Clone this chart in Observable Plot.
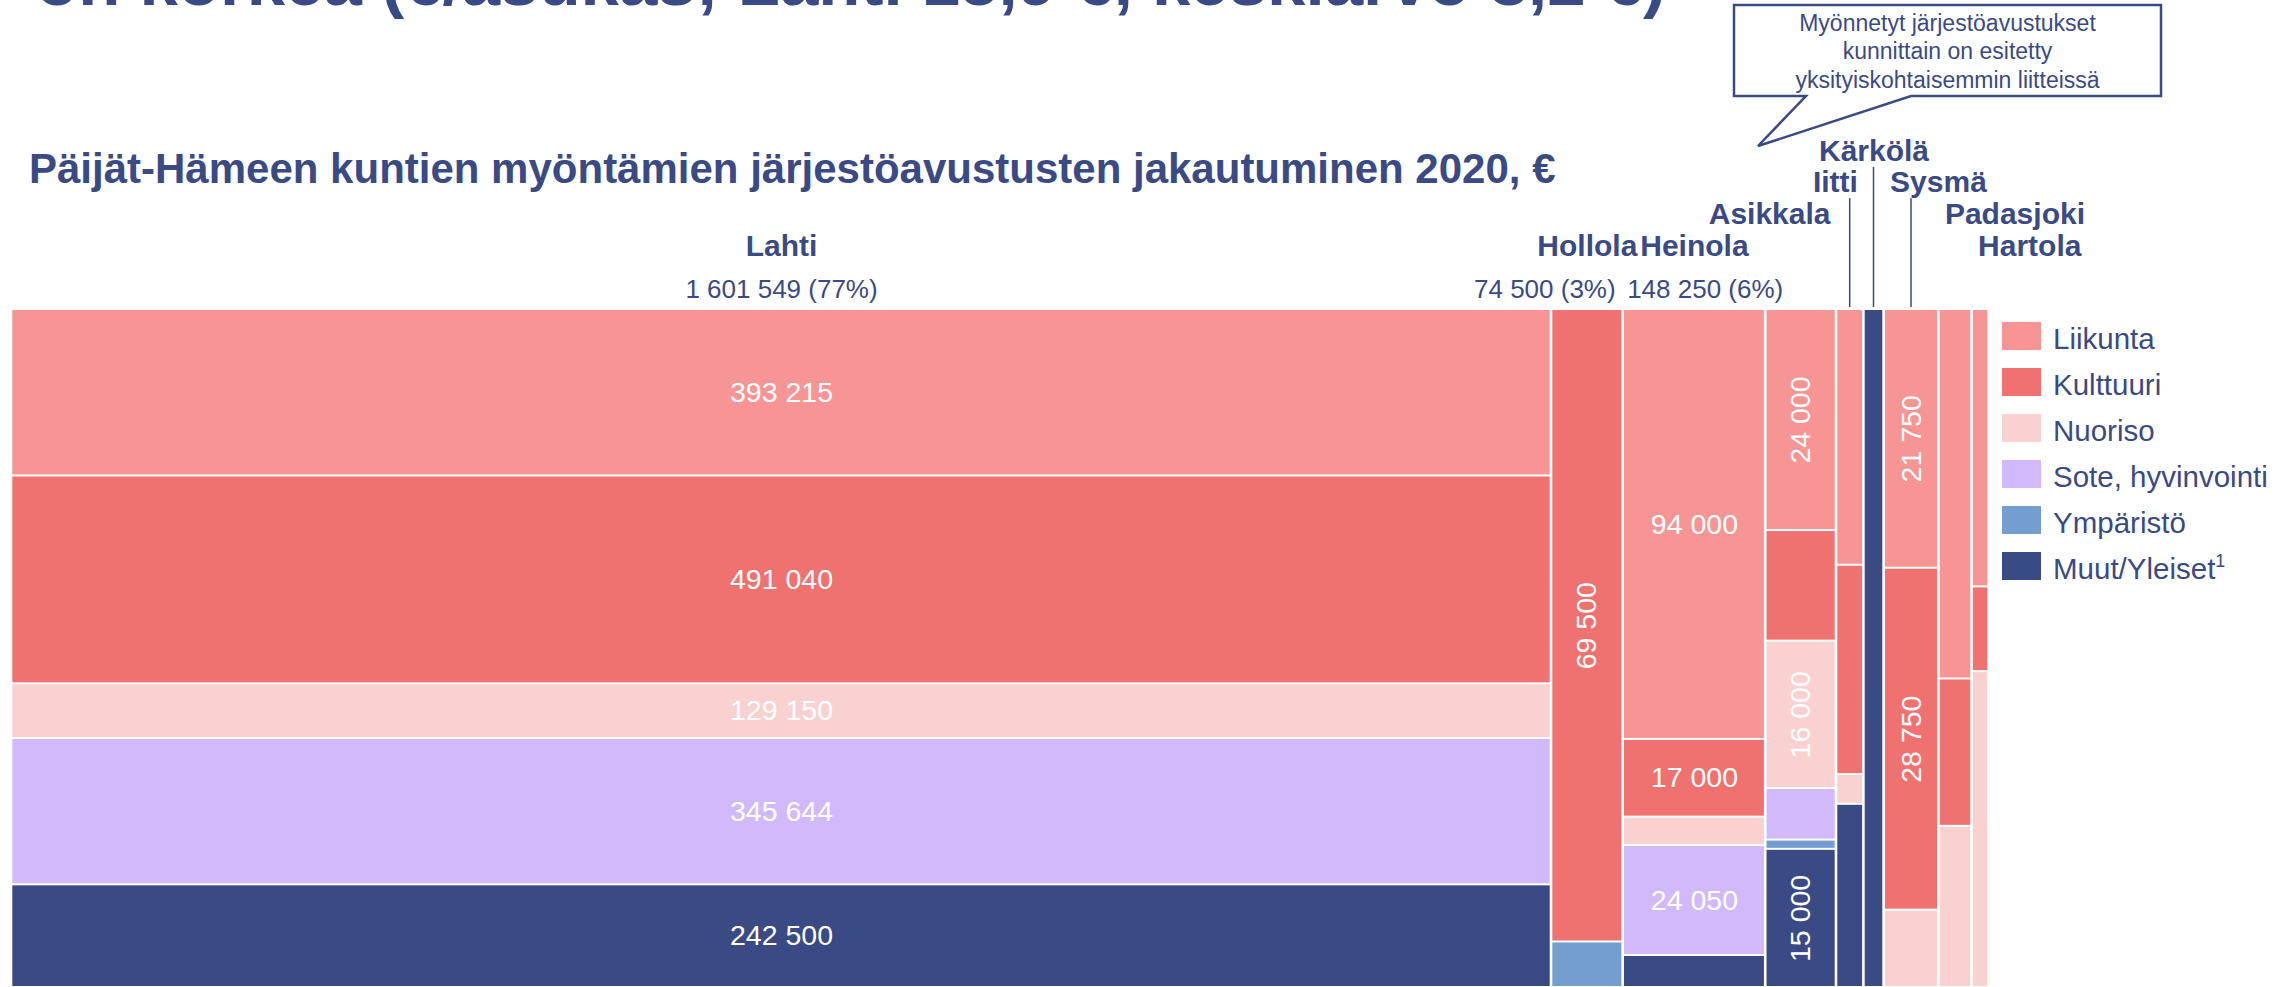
<!DOCTYPE html>
<html><head><meta charset="utf-8">
<script src="https://cdn.jsdelivr.net/npm/d3@7"></script>
<script src="https://cdn.jsdelivr.net/npm/@observablehq/plot@0.6"></script>
<style>
html,body{margin:0;padding:0;background:#fff;}
#wrap{position:relative;width:2293px;height:987px;overflow:hidden;font-family:"Liberation Sans",Arial,sans-serif;}
#wrap > svg{position:absolute;left:0;top:0;}
</style></head><body><div id="wrap"></div>
<script>
// ---------- data ----------
const municipalities = ["Lahti","Hollola","Heinola","Asikkala","Iitti","Kärkölä","Sysmä","Padasjoki","Hartola"];
const categories = ["Liikunta","Kulttuuri","Nuoriso","Sote, hyvinvointi","Ympäristö","Muut/Yleiset"];
const liikunta  = [393215,     0, 94000, 24000, 10750,     0, 21750, 18800, 7200];
const kulttuuri = [491040, 69500, 17000, 12000,  8800,     0, 28750,  7500, 2200];
const nuoriso   = [129150,     0,  6200, 16000,  1250,     0,  6500,  8200, 8200];
const sote      = [345644,     0, 24050,  5600,     0,     0,     0,     0,    0];
const ymparisto = [     0,  5000,     0,  1000,     0,     0,     0,     0,    0];
const muut      = [242500,     0,  7000, 15000,  7700, 21000,     0,     0,    0];
const shares = {Lahti: "77%", Hollola: "3%", Heinola: "6%"};
const labelled = [
  ["Lahti","Liikunta"],["Lahti","Kulttuuri"],["Lahti","Nuoriso"],["Lahti","Sote, hyvinvointi"],["Lahti","Muut/Yleiset"],
  ["Hollola","Kulttuuri"],
  ["Heinola","Liikunta"],["Heinola","Kulttuuri"],["Heinola","Sote, hyvinvointi"],
  ["Asikkala","Liikunta"],["Asikkala","Nuoriso"],["Asikkala","Muut/Yleiset"],
  ["Sysmä","Liikunta"],["Sysmä","Kulttuuri"]
];
const title = "on korkea (€/asukas; Lahti 15,9 €, keskiarvo 8,2 €)";
const subtitle = "Päijät-Hämeen kuntien myöntämien järjestöavustusten jakautuminen 2020, €";
const calloutLines = ["Myönnetyt järjestöavustukset","kunnittain on esitetty","yksityiskohtaisemmin liitteissä"];

// ---------- styling / layout ----------
const colors = ["#f79594","#f07270","#f9d1d1","#d1b9fb","#749dd0","#3a4a84"];
const navy = "#3a4a84";
const FONT = '"Liberation Sans", Arial, sans-serif';
const W = 2293, H = 987;
const nameLayout = {"Lahti":[0,"middle"],"Hollola":[0,"middle"],"Heinola":[0,"middle"],"Asikkala":[1,"end"],
  "Iitti":[2,"end"],"Kärkölä":[3,"middle"],"Sysmä":[2,"start"],"Padasjoki":[1,"start"],"Hartola":[0,"start"]};
const valueLayout = {"Lahti":"middle","Hollola":"end","Heinola":"start"};
const leaders = ["Iitti","Kärkölä","Sysmä"];

// ---------- build ----------
const series = [liikunta,kulttuuri,nuoriso,sote,ymparisto,muut];
const totals = municipalities.map((m,i)=>d3.sum(series,s=>s[i]));
const grand = d3.sum(totals);
const starts = d3.cumsum([0,...totals]);
const cols = municipalities.map((m,i)=>({name:m,total:totals[i],x1:starts[i],x2:starts[i]+totals[i],mid:starts[i]+totals[i]/2}));
const segs = [];
municipalities.forEach((m,i)=>{
  let c = 0;
  categories.forEach((cat,j)=>{
    const v = series[j][i];
    if (v>0){ segs.push({muni:m,cat,value:v,x1:cols[i].x1,x2:cols[i].x2,y1:c/totals[i],y2:(c+v)/totals[i]}); c+=v; }
  });
});
const fmt = v => d3.format(",")(v).replace(/,/g," ");

const marginLeft = 11, marginRight = 304.5, marginTop = 309;
const pxPerEuro = (W - marginLeft - marginRight)/grand;
const labelSegs = segs.filter(s=>labelled.some(([m,c])=>m===s.muni&&c===s.cat));
const horiz = labelSegs.filter(s=>(s.x2-s.x1)*pxPerEuro>=100);
const vert = labelSegs.filter(s=>(s.x2-s.x1)*pxPerEuro<100);

const rowBaseline = [255,222.7,190.7,159.3];
const shiftFix = -11;
const nameFs = 30, valFs = 26;
const nameMarks = [];
for (const a of ["middle","start","end"]) {
  for (let r=0;r<4;r++){
    const d = cols.filter(c=>nameLayout[c.name][0]===r && nameLayout[c.name][1]===a);
    if (!d.length) continue;
    nameMarks.push(Plot.text(d,{
      x: a==="middle"? "mid" : a==="start" ? "x1" : "x2",
      dx: a==="middle"?0 : a==="start"? 6 : -6,
      frameAnchor:"top", dy: rowBaseline[r]-marginTop-0.32*nameFs+shiftFix,
      text:"name", textAnchor:a, fontSize:nameFs, fontWeight:"bold", fill:navy
    }));
  }
}
const valueMarks = ["middle","start","end"].map(a=>{
  const d = cols.filter(c=>valueLayout[c.name]===a);
  return Plot.text(d,{
    x: a==="middle"?"mid": a==="start"?"x1":"x2",
    dx: a==="middle"?0 : a==="start"? 4 : -7.5,
    frameAnchor:"top", dy: 297-marginTop-0.32*valFs+shiftFix+1,
    text: c=>`${fmt(c.total)} (${shares[c.name]})`, textAnchor:a, fontSize:valFs, fill:navy
  });
});

const chart = Plot.plot({
  width:W, height:H, marginLeft, marginRight, marginTop, marginBottom:0,
  style:{fontFamily:FONT, background:"transparent"},
  x:{domain:[0,grand], axis:null},
  y:{domain:[0,1], reverse:true, axis:null},
  color:{domain:categories, range:colors},
  marks:[
    Plot.rect(segs,{x1:"x1",x2:"x2",y1:"y1",y2:"y2",fill:"cat",insetLeft:1.3,insetRight:1.3,insetTop:1,insetBottom:1}),
    Plot.text(horiz,{x:d=>(d.x1+d.x2)/2,y:d=>(d.y1+d.y2)/2,text:d=>fmt(d.value),fill:"white",fontSize:28.5}),
    Plot.text(vert,{x:d=>(d.x1+d.x2)/2,y:d=>(d.y1+d.y2)/2,text:d=>fmt(d.value),fill:"white",fontSize:28.5,rotate:-90}),
    ...nameMarks, ...valueMarks
  ]
});
const wrap = document.getElementById("wrap");
wrap.appendChild(chart);

// ---------- overlay: titles, callout, leaders, legend ----------
const xs = chart.scale("x");
const svg = d3.select(wrap).append("svg").attr("width",W).attr("height",H)
  .style("font-family",FONT).style("pointer-events","none");
svg.append("text").attr("x",36).attr("y",5).attr("font-size",69).attr("font-weight","bold").attr("fill",navy).text(title);
svg.append("text").attr("x",29).attr("y",183).attr("font-size",42).attr("font-weight","bold").attr("fill",navy).text(subtitle);
svg.append("path").attr("d","M1734,5H2161V96H1911L1758,146L1806,96H1734Z")
  .attr("fill","white").attr("stroke",navy).attr("stroke-width",2.5);
calloutLines.forEach((t,i)=>svg.append("text").attr("x",1947.5).attr("y",[30.7,59.3,87.6][i])
  .attr("text-anchor","middle").attr("font-size",23).attr("fill",navy).text(t));
leaders.forEach(n=>{
  const c = cols.find(c=>c.name===n);
  const r = nameLayout[n][0];
  const x = xs.apply(c.mid);
  svg.append("line").attr("x1",x).attr("x2",x).attr("y1",rowBaseline[r]+7.5).attr("y2",307)
    .attr("stroke",navy).attr("stroke-width",1.5);
});
categories.forEach((cat,i)=>{
  const y = 322 + 46*i;
  svg.append("rect").attr("x",2002).attr("y",y).attr("width",39).attr("height",28).attr("fill",colors[i]);
  const t = svg.append("text").attr("x",2053).attr("y",y+27).attr("font-size",29.5).attr("fill",navy).text(cat);
  if (cat==="Muut/Yleiset") t.append("tspan").attr("dy",-12).attr("font-size",18).text("1");
});
</script></body></html>
